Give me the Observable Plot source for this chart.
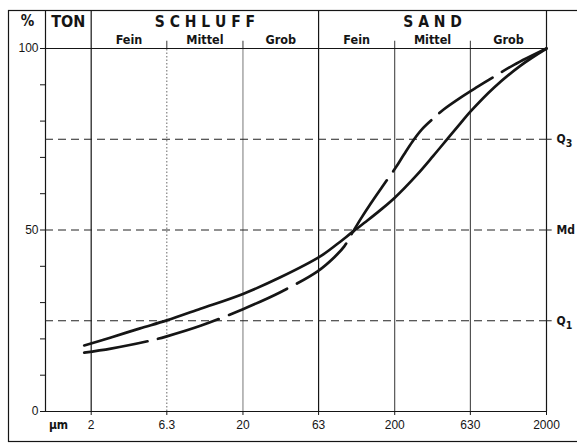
<!DOCTYPE html>
<html><head><meta charset="utf-8">
<script src="https://cdn.jsdelivr.net/npm/d3@7"></script>
<script src="https://cdn.jsdelivr.net/npm/@observablehq/plot@0.6"></script>
<style>
body{margin:0;background:#fff}
</style>
</head><body><div id="chart"></div>
<script>
// grain-size class boundaries (µm) and their tick labels
const sizeTicks = [2, 6.3, 20, 63, 200, 630, 2000];
const sizeTickLabels = ["2", "6.3", "20", "63", "200", "630", "2000"];
const majorBounds = [2, 63, 2000];
const mainClasses = ["S C H L U F F", "S A N D"];
const subClasses = ["Fein", "Mittel", "Grob", "Fein", "Mittel", "Grob"];
const pctTicks = [0, 10, 20, 30, 40, 50, 60, 70, 80, 90, 100];
const pctLabels = [0, 50, 100];
const quantileLevels = [25, 50, 75];
const quantileLabels = ["Q₁", "Md", "Q₃"];

// cumulative curves (grain size µm -> cumulative %)
const solidSize = [1.8, 2.7, 4.2, 6.3, 10.5, 20, 35, 65, 84, 105, 132, 160, 200, 280, 360, 445, 540, 630, 900, 1350, 2000];
const solidPct  = [18.2, 20.4, 22.9, 25.1, 28.3, 32.4, 36.9, 42.8, 46.2, 49.4, 52.6, 55.4, 58.9, 65.2, 70.5, 75.1, 79.3, 82.6, 89.2, 95.3, 100];
const dashedSize = [1.8, 2.7, 5, 6.3, 10.5, 20, 35, 62, 80, 93, 105, 120, 139, 170, 203, 230, 262, 300, 363, 420, 540, 700, 900, 1220, 2000];
const dashedPct  = [16.2, 17.3, 19.6, 20.7, 23.6, 28.2, 32.8, 38.6, 42.5, 45.5, 49.2, 53.2, 57.3, 62.6, 67.2, 70.8, 74.4, 77.6, 80.9, 83.2, 86.4, 89.4, 92.2, 95.5, 100];

const solid = solidSize.map((x, i) => ({x, y: solidPct[i]}));
const dashed = dashedSize.map((x, i) => ({x, y: dashedPct[i]}));

const xMin = 1;
const headerTop = 110.5;   // top edge of the header table, in % units
const subTickTop = 102;
const tickDown = -1.1;
const mainCenters = [[2, 63], [63, 2000]].map(([a, b]) => Math.sqrt(a * b));
const subCenters = sizeTicks.slice(0, -1).map((a, i) => Math.sqrt(a * sizeTicks[i + 1]));
const minorLines = [6.3, 20, 200, 630];

const headFont = "'Liberation Sans Narrow','DejaVu Sans Condensed','Arial Narrow',sans-serif";
const ink = "#151515";

const plot = Plot.plot({
  width: 577,
  height: 444,
  marginLeft: 45,
  marginRight: 31,
  marginTop: 48,
  marginBottom: 33,
  style: {fontFamily: "'Liberation Sans',Arial,sans-serif", fontSize: "12px", background: "#fff", color: ink},
  x: {type: "log", domain: [xMin, 2000], axis: null},
  y: {domain: [0, 100], ticks: pctTicks, tickFormat: d => pctLabels.includes(d) ? String(d) : "", tickSize: 5, tickPadding: 2, label: null},
  marks: [
    // minor class grid lines
    Plot.ruleX([6.3], {y1: 0, y2: 100, stroke: "#666", strokeWidth: 1, strokeDasharray: "1.5,2"}),
    Plot.ruleX([20], {y1: 0, y2: 100, stroke: "#777", strokeWidth: 1}),
    Plot.ruleX([200, 630], {y1: 0, y2: 100, stroke: "#333", strokeWidth: 1}),
    Plot.ruleX(minorLines, {y1: 100, y2: subTickTop, stroke: "#333", strokeWidth: 1}),
    // major column dividers running into the header
    Plot.ruleX([xMin, ...majorBounds], {y1: 0, y2: headerTop, stroke: ink, strokeWidth: 1.2}),
    // x axis ticks and labels
    Plot.ruleX(sizeTicks, {y1: 0, y2: tickDown, stroke: ink, strokeWidth: 1}),
    Plot.text(sizeTicks, {x: d => d, y: 0, dy: 14, text: (d, i) => sizeTickLabels[i], fontSize: 12}),
    // 0 and 100 lines
    Plot.ruleY([0, 100], {x1: xMin, x2: 2000, stroke: ink, strokeWidth: 1.2}),
    // quantile lines
    Plot.ruleY(quantileLevels, {x1: xMin, x2: 2000, stroke: "#222", strokeWidth: 1, strokeDasharray: "8,5"}),
    Plot.ruleY(quantileLevels, {x1: 2000, x2: 2180, stroke: "#222", strokeWidth: 1}),
    Plot.text(quantileLevels, {x: 2000, y: d => d, text: (d, i) => quantileLabels[i], textAnchor: "start", dx: 10, dy: 0, fontFamily: headFont, fontWeight: "bold", fontSize: 12}),
    // header texts
    Plot.text(["%"], {x: xMin, y: 100, dx: -18, dy: -27, text: d => d, fontFamily: headFont, fontWeight: "bold", fontSize: 15}),
    Plot.text(["TON"], {x: Math.sqrt(xMin * 2), y: 100, dy: -27, text: d => d, fontFamily: headFont, fontWeight: "bold", fontSize: 16}),
    Plot.text(mainClasses, {x: (d, i) => mainCenters[i], y: 100, dy: -26.5, text: d => d, fontFamily: headFont, fontWeight: "bold", fontSize: 15.5, letterSpacing: "1.5px"}),
    Plot.text(subClasses, {x: (d, i) => subCenters[i], y: 100, dy: -8.5, text: d => d, fontFamily: headFont, fontWeight: "bold", fontSize: 12.5}),
    Plot.text(["µm"], {x: xMin, y: 0, dx: 13, dy: 14, text: d => d, fontFamily: headFont, fontWeight: "bold", fontSize: 12}),
    // cumulative curves
    Plot.line(solid, {x: "x", y: "y", curve: "catmull-rom", stroke: ink, strokeWidth: 2.7}),
    Plot.line(dashed, {x: "x", y: "y", curve: "catmull-rom", stroke: ink, strokeWidth: 2.7, strokeDasharray: "64,11"})
  ]
});

// render subscript digits of the quantile labels as lowered tspans
const subDigits = {"₁": "1", "₃": "3"};
d3.select(plot).selectAll("text").each(function () {
  const t = this.textContent;
  const m = /^Q([₁₃])$/.exec(t);
  if (m) {
    const sel = d3.select(this);
    sel.text("Q");
    sel.append("tspan").attr("dy", "0.4em").attr("font-size", 10.5).text(subDigits[m[1]]);
  }
});

d3.select(plot).append("rect")
  .attr("x", 8.5).attr("y", 10.5).attr("width", 600).attr("height", 431)
  .attr("fill", "none").attr("stroke", ink).attr("stroke-width", 1.2);

document.getElementById("chart").appendChild(plot);
</script>
</body></html>
